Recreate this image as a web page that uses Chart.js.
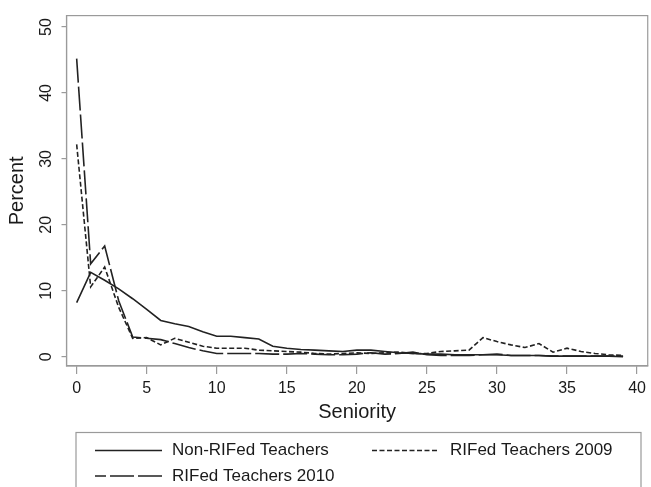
<!DOCTYPE html>
<html>
<head>
<meta charset="utf-8">
<script src="https://cdn.jsdelivr.net/npm/chart.js@4/dist/chart.umd.min.js"></script>
<style>
  body { margin: 0; background: #fff; }
  #wrap { width: 651px; height: 487px; }
</style>
</head>
<body>
<div id="wrap"><canvas id="seniority" width="651" height="487"></canvas></div>
<script>
// seniority in years, 0..39
var seniority = [];
for (var i = 0; i <= 39; i++) seniority.push(i);

var nonRifed = [8.2, 12.8, 11.6, 10.3, 8.8, 7.2, 5.5, 5.0, 4.6, 3.8,
                3.1, 3.1, 2.9, 2.7, 1.6, 1.3, 1.1, 1.0, 0.9, 0.8,
                1.0, 1.0, 0.8, 0.6, 0.5, 0.4, 0.4, 0.3, 0.3, 0.3,
                0.3, 0.2, 0.2, 0.2, 0.1, 0.1, 0.1, 0.1, 0.1, 0.0];

var rifed2009 = [32.2, 10.6, 13.6, 7.5, 2.8, 2.9, 1.8, 2.8, 2.2, 1.6,
                 1.3, 1.3, 1.3, 1.0, 0.9, 0.8, 0.7, 0.5, 0.4, 0.5,
                 0.6, 0.5, 0.6, 0.7, 0.5, 0.5, 0.8, 0.9, 1.0, 2.9,
                 2.3, 1.8, 1.4, 2.0, 0.7, 1.3, 0.8, 0.5, 0.3, 0.2];

var rifed2010 = [45.2, 14.1, 16.8, 8.5, 3.0, 2.8, 2.6, 2.0, 1.4, 0.9,
                 0.5, 0.5, 0.5, 0.5, 0.4, 0.4, 0.5, 0.4, 0.3, 0.3,
                 0.4, 0.6, 0.4, 0.5, 0.7, 0.3, 0.2, 0.2, 0.2, 0.3,
                 0.4, 0.2, 0.2, 0.2, 0.1, 0.1, 0.1, 0.1, 0.1, 0.1];

var xTicks = [0, 5, 10, 15, 20, 25, 30, 35, 40];
var yTicks = [0, 10, 20, 30, 40, 50];

var frameColor = '#9a9a9a';
var inkColor = '#1a1a1a';
var lineColor = '#222222';

function pts(ys) {
    return ys.map(function (y, i) { return { x: seniority[i], y: y }; });
}

// gray box round the plot region
var framePlugin = {
    id: 'frame',
    afterDraw: function (chart) {
        var a = chart.chartArea, ctx = chart.ctx;
        ctx.save();
        ctx.strokeStyle = frameColor;
        ctx.lineWidth = 1.2;
        ctx.strokeRect(a.left, a.top, a.right - a.left, a.bottom - a.top);
        ctx.restore();
    }
};

// boxed legend under the axis title, line samples taken from the datasets
var legendPlugin = {
    id: 'boxLegend',
    afterDraw: function (chart) {
        var ctx = chart.ctx;
        var slots = [
            { ds: 0, x0: 95, x1: 162, tx: 172, y: 450.5 },
            { ds: 1, x0: 370, x1: 437, tx: 450, y: 450.5 },
            { ds: 2, x0: 95, x1: 162, tx: 172, y: 476 }
        ];
        ctx.save();
        ctx.strokeStyle = frameColor;
        ctx.lineWidth = 1.2;
        ctx.strokeRect(76, 432.5, 565, 60);
        ctx.font = '17px "Liberation Sans", Arial, sans-serif';
        ctx.textBaseline = 'middle';
        ctx.fillStyle = inkColor;
        slots.forEach(function (s) {
            var d = chart.data.datasets[s.ds];
            ctx.save();
            ctx.strokeStyle = d.borderColor;
            ctx.lineWidth = d.borderWidth;
            ctx.setLineDash(d.borderDash || []);
            ctx.beginPath();
            ctx.moveTo(s.x1, s.y);
            ctx.lineTo(s.x0, s.y);
            ctx.stroke();
            ctx.restore();
            ctx.fillText(d.label, s.tx, s.y);
        });
        ctx.restore();
    }
};

var ctx = document.getElementById('seniority').getContext('2d');
var chart = new Chart(ctx, {
    type: 'line',
    data: {
        datasets: [{
            label: 'Non-RIFed Teachers',
            data: pts(nonRifed),
            borderColor: lineColor,
            borderWidth: 1.6,
            borderDash: []
        }, {
            label: 'RIFed Teachers 2009',
            data: pts(rifed2009),
            borderColor: lineColor,
            borderWidth: 1.6,
            borderDash: [5, 2.5]
        }, {
            label: 'RIFed Teachers 2010',
            data: pts(rifed2010),
            borderColor: lineColor,
            borderWidth: 1.6,
            borderDash: [24, 4]
        }]
    },
    options: {
        responsive: false,
        animation: false,
        events: [],
        elements: { point: { radius: 0 }, line: { tension: 0 } },
        layout: { padding: { top: 13.5, right: 1, bottom: 61, left: 0 } },
        plugins: { legend: { display: false }, tooltip: { enabled: false } },
        scales: {
            x: {
                type: 'linear',
                min: -0.725,
                max: 40.76,
                afterBuildTicks: function (s) { s.ticks = xTicks.map(function (v) { return { value: v }; }); },
                afterFit: function (s) { s.height = 60; },
                grid: { display: true, drawOnChartArea: false, drawTicks: true, tickLength: 8, color: frameColor, lineWidth: 1.2 },
                border: { display: true, color: frameColor, width: 1.2 },
                ticks: { font: { size: 16, family: '"Liberation Sans", Arial, sans-serif' }, color: inkColor, padding: 5, maxRotation: 0 },
                title: { display: true, text: 'Seniority', color: inkColor, padding: { top: 0, bottom: 2 },
                         font: { size: 20, family: '"Liberation Sans", Arial, sans-serif' } }
            },
            y: {
                min: -1.4,
                max: 51.73,
                afterBuildTicks: function (s) { s.ticks = yTicks.map(function (v) { return { value: v }; }); },
                afterFit: function (s) { s.width = 66.5; },
                grid: { display: true, drawOnChartArea: false, drawTicks: true, tickLength: 5, color: frameColor, lineWidth: 1.2 },
                border: { display: true, color: frameColor, width: 1.2 },
                ticks: { font: { size: 16, family: '"Liberation Sans", Arial, sans-serif' }, color: inkColor,
                         minRotation: 90, maxRotation: 90, crossAlign: 'center', padding: 6 },
                title: { display: true, text: 'Percent', color: inkColor, padding: { top: 5, bottom: 0 },
                         font: { size: 20, family: '"Liberation Sans", Arial, sans-serif' } }
            }
        }
    },
    plugins: [framePlugin, legendPlugin]
});
</script>
</body>
</html>
